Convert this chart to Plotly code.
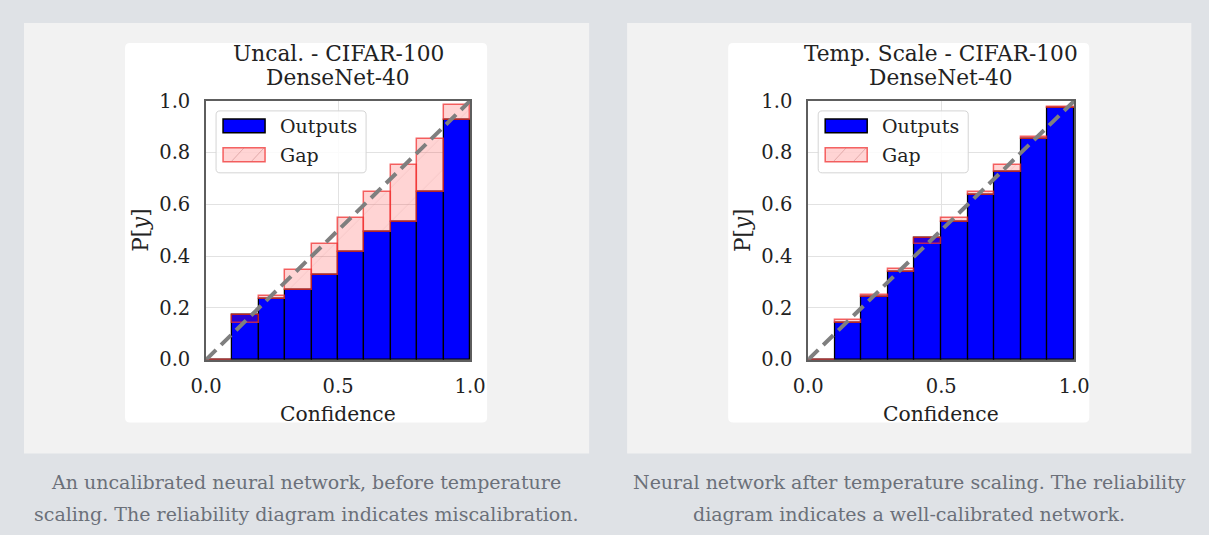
import plotly.graph_objects as go

W, H = 1209, 535

# ---- data ----
bin_centers = [0.05, 0.15, 0.25, 0.35, 0.45, 0.55, 0.65, 0.75, 0.85, 0.95]
uncal_outputs = [0.0, 0.174, 0.235, 0.27, 0.328, 0.416, 0.493, 0.534, 0.65, 0.927]
uncal_conf = [0.0, 0.142, 0.247, 0.347, 0.448, 0.547, 0.65, 0.753, 0.853, 0.985]
temp_outputs = [0.0, 0.142, 0.242, 0.341, 0.472, 0.534, 0.637, 0.727, 0.853, 0.972]
temp_conf = [0.0, 0.155, 0.25, 0.35, 0.448, 0.547, 0.65, 0.753, 0.862, 0.978]
diag = [0.0, 1.0]
x_ticks = [0.0, 0.5, 1.0]
y_ticks = [0.0, 0.2, 0.4, 0.6, 0.8, 1.0]
titles = [("Uncal. - CIFAR-100", "DenseNet-40"), ("Temp. Scale - CIFAR-100", "DenseNet-40")]
captions = [
    ("An uncalibrated neural network, before temperature",
     "scaling. The reliability diagram indicates miscalibration."),
    ("Neural network after temperature scaling. The reliability",
     "diagram indicates a well-calibrated network."),
]

# mapping from target-picture pixels to paper coordinates (photograph is inset/scaled)
OX, OY, SX, SY = 16.0, 11.0, 0.9733, 0.958


def px(x):
    return min(max((x - OX) / SX / W, 0), 1)


def py(y):
    return min(max(1 - (y - OY) / SY / H, 0), 1)


def rrect(x0, y0, x1, y1, r=5):
    # rounded rectangle path in paper coords, given target pixels
    rx = r / SX / W
    ry = r / SY / H
    a, b, c, d = px(x0), py(y1), px(x1), py(y0)  # left, bottom, right, top
    return (f"M{a+rx},{b} L{c-rx},{b} Q{c},{b} {c},{b+ry} L{c},{d-ry} Q{c},{d} {c-rx},{d} "
            f"L{a+rx},{d} Q{a},{d} {a},{d-ry} L{a},{b+ry} Q{a},{b} {a+rx},{b} Z")


SERIF = "DejaVu Serif"
TXT = "#222222"
fig = go.Figure()

panels = [
    dict(outputs=uncal_outputs, conf=uncal_conf, xa="x", ya="y", x0=206, x1=470,
         box=(24, 23, 589, 454), white=(125, 43, 487, 423), cap_x=306),
    dict(outputs=temp_outputs, conf=temp_conf, xa="x2", ya="y2", x0=808, x1=1074,
         box=(627, 23, 1191, 454), white=(728, 43, 1089, 423), cap_x=909),
]

shapes = []
annotations = []

for i, p in enumerate(panels):
    bx0, by0, bx1, by1 = p["box"]
    shapes.append(dict(type="rect", xref="paper", yref="paper", x0=px(bx0), x1=px(bx1),
                       y0=py(by1), y1=py(by0), fillcolor="#f2f2f2", line=dict(width=0), layer="below"))
    wx0, wy0, wx1, wy1 = p["white"]
    shapes.append(dict(type="path", xref="paper", yref="paper", path=rrect(wx0, wy0, wx1, wy1, 5),
                       fillcolor="white", line=dict(width=0), layer="below"))

    gaps = [c - o for c, o in zip(p["conf"], p["outputs"])]
    fig.add_trace(go.Bar(x=bin_centers, y=p["outputs"], xaxis=p["xa"], yaxis=p["ya"],
                         marker=dict(color="#0000ff", line=dict(color="black", width=1.3)),
                         name="Outputs", showlegend=False))
    fig.add_trace(go.Bar(x=bin_centers, y=gaps, base=p["outputs"], xaxis=p["xa"], yaxis=p["ya"],
                         marker=dict(color="rgba(255,0,0,0.17)",
                                     line=dict(color="rgba(240,50,50,0.75)", width=1.5),
                                     pattern=dict(shape="/", fgcolor="rgba(190,120,120,0.4)",
                                                  size=24, solidity=0.03)),
                         name="Gap", showlegend=False))
    fig.add_trace(go.Scatter(x=diag, y=diag, xaxis=p["xa"], yaxis=p["ya"], mode="lines",
                             line=dict(color="#7f7f7f", width=4, dash="14px,7px"),
                             showlegend=False, hoverinfo="skip"))

    cx = (p["x0"] + p["x1"]) / 2
    annotations.append(dict(text=titles[i][0], x=px(cx), y=py(54), xref="paper", yref="paper",
                            showarrow=False, font=dict(family=SERIF, size=21.7, color=TXT),
                            xanchor="center", yanchor="middle"))
    annotations.append(dict(text=titles[i][1], x=px(cx), y=py(78), xref="paper", yref="paper",
                            showarrow=False, font=dict(family=SERIF, size=21.7, color=TXT),
                            xanchor="center", yanchor="middle"))
    annotations.append(dict(text="Confidence", x=px(cx), y=py(414), xref="paper", yref="paper",
                            showarrow=False, font=dict(family=SERIF, size=20.3, color=TXT),
                            xanchor="center", yanchor="middle"))
    annotations.append(dict(text="P[<i>y</i>]", x=px(p["x0"] - 65), y=py(231), xref="paper",
                            yref="paper", showarrow=False, textangle=-90,
                            font=dict(family=SERIF, size=21.5, color=TXT),
                            xanchor="center", yanchor="middle"))
    # manual legend
    lx = p["x0"]
    shapes.append(dict(type="path", xref="paper", yref="paper", path=rrect(lx + 10, 111, lx + 160, 173, 4),
                       fillcolor="rgba(255,255,255,0.85)", line=dict(color="#d4d4d4", width=1)))
    shapes.append(dict(type="rect", xref="paper", yref="paper", x0=px(lx + 17), x1=px(lx + 59),
                       y0=py(133), y1=py(119), fillcolor="#0000ff", line=dict(color="black", width=1.5)))
    shapes.append(dict(type="rect", xref="paper", yref="paper", x0=px(lx + 17), x1=px(lx + 59),
                       y0=py(162), y1=py(148), fillcolor="rgba(255,0,0,0.17)",
                       line=dict(color="rgba(240,50,50,0.75)", width=1.5)))
    shapes.append(dict(type="line", xref="paper", yref="paper", x0=px(lx + 25), x1=px(lx + 38),
                       y0=py(162), y1=py(148), line=dict(color="rgba(190,120,120,0.45)", width=1)))
    shapes.append(dict(type="line", xref="paper", yref="paper", x0=px(lx + 45), x1=px(lx + 58),
                       y0=py(162), y1=py(148), line=dict(color="rgba(190,120,120,0.45)", width=1)))
    annotations.append(dict(text="Outputs", x=px(lx + 72), y=py(126), xref="paper", yref="paper",
                            showarrow=False, font=dict(family=SERIF, size=19, color=TXT),
                            xanchor="left", yanchor="middle"))
    annotations.append(dict(text="Gap", x=px(lx + 72), y=py(155), xref="paper", yref="paper",
                            showarrow=False, font=dict(family=SERIF, size=19, color=TXT),
                            xanchor="left", yanchor="middle"))
    for j, ly in enumerate([482, 515]):
        annotations.append(dict(text=captions[i][j], x=px(p["cap_x"]), y=py(ly), xref="paper",
                                yref="paper", showarrow=False,
                                font=dict(family=SERIF, size=19, color="#6b7079"),
                                xanchor="center", yanchor="middle"))

axis_common = dict(range=[0, 1], showline=True, mirror=True, linecolor="#5e5e5e", linewidth=1.8,
                   showgrid=True, gridcolor="#e2e2e2", gridwidth=1, zeroline=False,
                   tickfont=dict(family=SERIF, size=19.5, color=TXT), ticks="",
                   fixedrange=True)
fig.update_layout(
    width=W, height=H,
    margin=dict(l=0, r=0, t=0, b=0),
    paper_bgcolor="#dfe2e6", plot_bgcolor="white",
    barmode="overlay", bargap=0,
    xaxis=dict(domain=[px(206), px(470)], anchor="y", tickvals=x_ticks,
               ticktext=["0.0", "0.5", "1.0"], ticklabelstandoff=8, **axis_common),
    yaxis=dict(domain=[py(360), py(101)], anchor="x", tickvals=y_ticks,
               ticktext=["0.0", "0.2", "0.4", "0.6", "0.8", "1.0"], ticklabelstandoff=10, **axis_common),
    xaxis2=dict(domain=[px(808), px(1074)], anchor="y2", tickvals=x_ticks,
                ticktext=["0.0", "0.5", "1.0"], ticklabelstandoff=8, **axis_common),
    yaxis2=dict(domain=[py(360), py(101)], anchor="x2", tickvals=y_ticks,
                ticktext=["0.0", "0.2", "0.4", "0.6", "0.8", "1.0"], ticklabelstandoff=10, **axis_common),
    shapes=shapes,
    annotations=annotations,
    showlegend=False,
)

fig.write_html("out.html", config={"displayModeBar": False},
               post_script="document.body.style.margin='0';document.body.style.overflow='hidden';")
